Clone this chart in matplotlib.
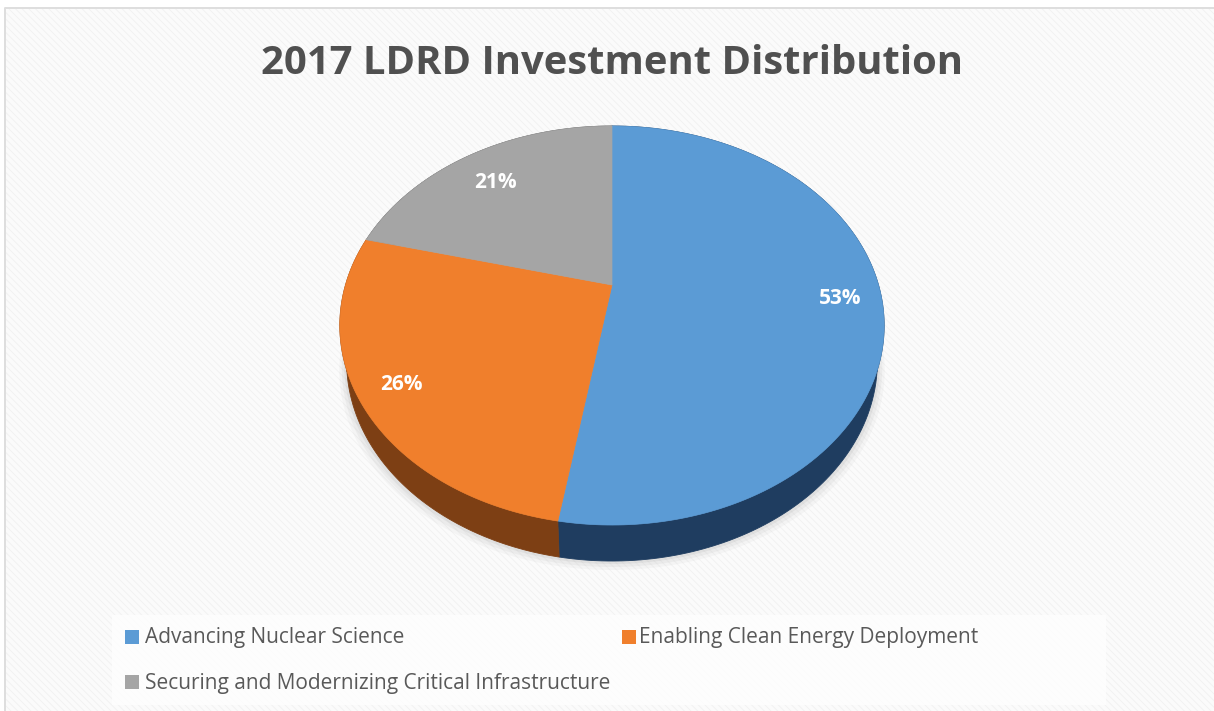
import numpy as np
import matplotlib
matplotlib.use("Agg")
import matplotlib.pyplot as plt
from matplotlib.patches import Rectangle

title = "2017 LDRD Investment Distribution"
categories = ["Advancing Nuclear Science", "Enabling Clean Energy Deployment",
              "Securing and Modernizing Critical Infrastructure"]
values = [52.6, 26.4, 21.0]
labels = ["53%", "26%", "21%"]
colors = ["#5b9bd5", "#f07f2c", "#a5a5a5"]
side_colors = ["#1f3d60", "#7d3f14", "#555555"]

fig = plt.figure(figsize=(12.14, 7.11), dpi=100, facecolor="white")
ax = fig.add_axes([0, 0, 1, 1])
ax.set_xlim(0, 1214)
ax.set_ylim(711, 0)
ax.axis("off")
plt.rcParams["hatch.linewidth"] = 0.6

# panel background
ax.add_patch(Rectangle((5, 8), 1209, 703, facecolor="#fbfbfb", edgecolor="#f1f1f1",
                       hatch="\\\\\\\\\\", lw=0, zorder=0))
ax.plot([5, 5, 1214], [711, 8, 8], color="#dedede", lw=1.4, zorder=1)
ax.add_patch(Rectangle((112, 615), 994, 90, facecolor="#ffffff", edgecolor="none", alpha=0.75, zorder=1))

CX, CY, A, B, K = 612, 285, 266.5, 191.3, 0.203


def project(theta, r=1.0, dy=0.0, sx=1.0):
    x, y = r * np.sin(theta), r * np.cos(theta)
    w = 1 + K * y
    return CX + sx * A * x / w, CY - B * y / w + dy


circle = np.linspace(0, 2 * np.pi, 400)
DEPTH = 36
SHR = 0.975

# soft shadow
for i, (off, alpha) in enumerate([(9, 0.05), (6, 0.07), (3, 0.10)]):
    sx_, sy_ = project(circle, dy=DEPTH + off, sx=SHR + 0.003 * off)
    ax.fill(sx_, sy_, color="#808080", alpha=alpha, lw=0, zorder=2)

edges = np.cumsum([0] + values) / np.sum(values) * 2 * np.pi

# side wall (only front parts show, top face is drawn over it)
for v0, v1, c in zip(edges[:-1], edges[1:], side_colors):
    t = np.linspace(v0, v1, 200)
    x0, y0 = project(t)
    x1, y1 = project(t, dy=DEPTH, sx=SHR)
    ax.fill(np.r_[x0, x1[::-1]], np.r_[y0, y1[::-1]], color=c, lw=0.6, zorder=3)

# top face
for v0, v1, c in zip(edges[:-1], edges[1:], colors):
    t = np.linspace(v0, v1, 200)
    x, y = project(t)
    ax.fill(np.r_[CX, x], np.r_[CY, y], color=c, lw=0.5, zorder=4)

# percentage labels
label_pos = [(840, 299), (401, 385), (495, 183)]
for (lx, ly), lab in zip(label_pos, labels):
    ax.text(lx, ly, lab, color="white", fontsize=15, fontweight="bold", family="Open Sans",
            ha="center", va="center", zorder=6)

ax.text(612, 64, title, fontsize=28.8, fontweight="bold", family="Open Sans", color="#505050",
        ha="center", va="center", zorder=6)

# legend
lx_ = [125, 622, 125]
ly_ = [637, 637, 682]
tx_ = [145, 639, 145]
for c, name, a, b, t in zip(colors, categories, lx_, ly_, tx_):
    ax.add_patch(Rectangle((a, b - 7), 14, 14, facecolor=c, edgecolor="none", zorder=6))
    ax.text(t, b + 1, name, fontsize=15, family="Open Sans", color="#595959",
            ha="left", va="center", zorder=6)

fig.savefig("out.png", dpi=100, facecolor="white")
